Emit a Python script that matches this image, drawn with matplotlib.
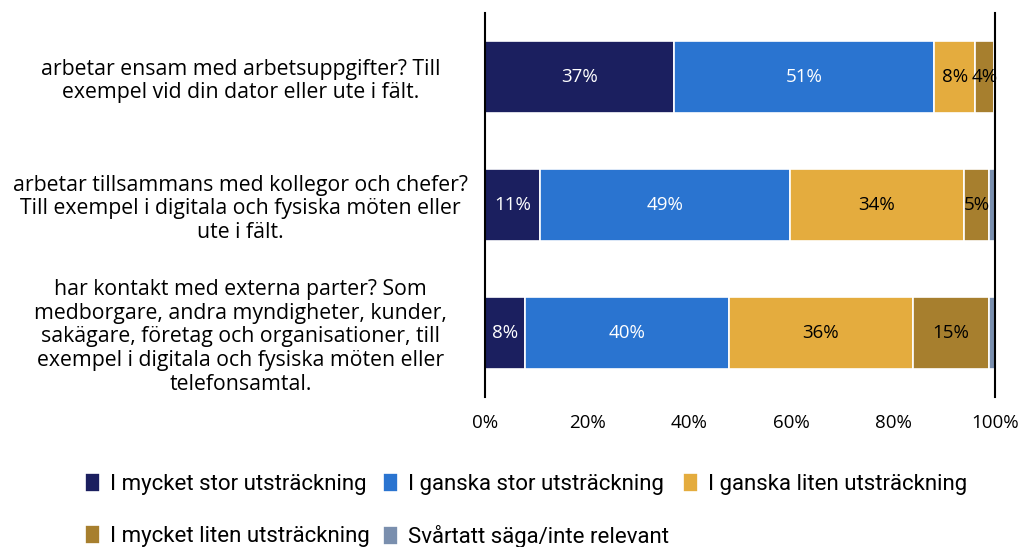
import matplotlib
matplotlib.use("Agg")
import matplotlib.pyplot as plt
import numpy as np

## Datos (porcentajes)
categories = [
    "arbetar ensam med arbetsuppgifter? Till\nexempel vid din dator eller ute i fält.",
    "arbetar tillsammans med kollegor och chefer?\nTill exempel i digitala och fysiska möten eller\nute i fält.",
    "har kontakt med externa parter? Som\nmedborgare, andra myndigheter, kunder,\nsakägare, företag och organisationer, till\nexempel i digitala och fysiska möten eller\ntelefonsamtal.",
]
series_names = [
    "I mycket stor utsträckning",
    "I ganska stor utsträckning",
    "I ganska liten utsträckning",
    "I mycket liten utsträckning",
    "Svårtatt säga/inte relevant",
]
mycket_stor = [37.1, 10.8, 7.8]
ganska_stor = [51.0, 49.0, 40.0]
ganska_liten = [8.0, 34.1, 36.1]
mycket_liten = [3.7, 4.9, 14.9]
svart_att_saga = [0.2, 1.2, 1.2]

colors = ["#1b1f5f", "#2a74d0", "#e4ac3e", "#a77f2e", "#7a8fae"]
text_colors = ["white", "white", "black", "black", "black"]

plt.rcParams["font.family"] = ["Open Sans", "DejaVu Sans"]

fig = plt.figure(figsize=(10.24, 5.47), dpi=100)
ax = fig.add_axes([485 / 1024, 1 - 397 / 547, 510 / 1024, 384 / 547])

data = [mycket_stor, ganska_stor, ganska_liten, mycket_liten, svart_att_saga]
y = np.arange(len(categories))
left = np.zeros(len(categories))
for vals, name, col, tcol in zip(data, series_names, colors, text_colors):
    vals = np.array(vals) / 100
    bars = ax.barh(y, vals, left=left, height=0.57, color=col, label=name,
                   edgecolor="white", linewidth=1.2)
    for b, v in zip(bars, vals):
        if v >= 0.03:
            ax.text(b.get_x() + b.get_width() / 2, b.get_y() + b.get_height() / 2,
                    f"{round(v * 100):.0f}%", ha="center", va="center",
                    color=tcol, fontsize=13.5)
    left += vals

ax.set_xlim(0, 1)
ax.set_ylim(2.5, -0.5)
ax.set_yticks(y)
ax.set_yticklabels(categories, fontsize=15.3, ha="center", linespacing=1.18)
ax.tick_params(axis="y", length=0, pad=176)
ax.set_xticks([0, 0.2, 0.4, 0.6, 0.8, 1.0])
ax.set_xticklabels(["0%", "20%", "40%", "60%", "80%", "100%"], fontsize=13.5)
ax.tick_params(axis="x", length=0, pad=12)
for s in ["top", "bottom"]:
    ax.spines[s].set_visible(False)
ax.spines["left"].set_linewidth(1.5)
ax.spines["right"].set_linewidth(1.5)

## orden por filas en la leyenda
handles, labels = ax.get_legend_handles_labels()
order = [0, 3, 1, 4, 2]
fig.legend([handles[i] for i in order], [labels[i] for i in order], ncol=3,
           loc="upper left", bbox_to_anchor=(65 / 1024, 1 - 453 / 547),
           frameon=False, prop={"family": ["Roboto", "DejaVu Sans"], "size": 16},
           handlelength=0.68, handleheight=0.95, handletextpad=0.45, columnspacing=0.6,
           labelspacing=1.35)

fig.savefig("out.png", dpi=100)
